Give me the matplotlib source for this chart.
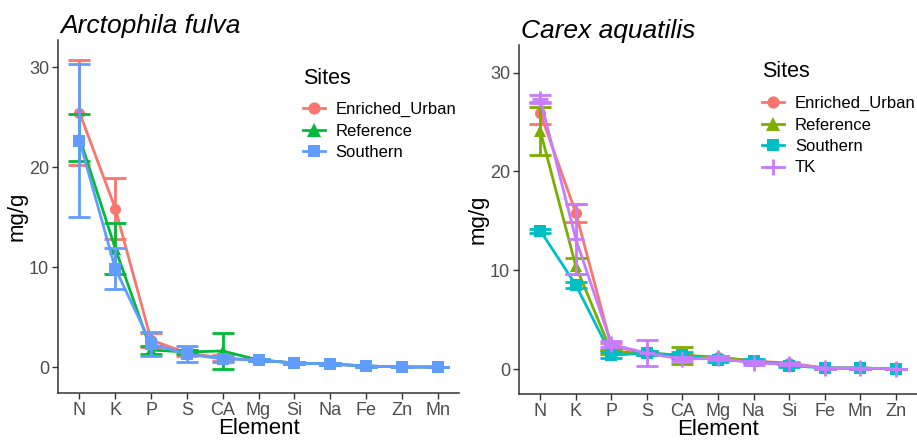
import numpy as np
import matplotlib
matplotlib.use("Agg")
import matplotlib.pyplot as plt

plt.rcParams['font.family'] = ['Liberation Sans', 'DejaVu Sans']

# ---- left panel: Arctophila fulva ----
elem_a = ["N", "K", "P", "S", "CA", "Mg", "Si", "Na", "Fe", "Zn", "Mn"]
eu_a = [25.45, 15.85, 2.7, 1.4, 0.9, 0.7, 0.4, 0.3, 0.1, 0.0, 0.0]
eu_a_err = [5.25, 3.05, 0.7, 0.3, 0.3, 0.1, 0.1, 0.1, 0.05, 0.02, 0.02]
ref_a = [22.95, 11.85, 1.7, 1.5, 1.6, 0.7, 0.4, 0.3, 0.1, 0.0, 0.0]
ref_a_err = [2.35, 2.55, 0.4, 0.2, 1.8, 0.1, 0.1, 0.1, 0.05, 0.02, 0.02]
sou_a = [22.65, 9.85, 2.3, 1.3, 0.8, 0.7, 0.4, 0.3, 0.1, 0.0, 0.0]
sou_a_err = [7.65, 2.05, 1.2, 0.8, 0.3, 0.1, 0.1, 0.1, 0.05, 0.02, 0.02]

# ---- right panel: Carex aquatilis ----
elem_c = ["N", "K", "P", "S", "CA", "Mg", "Na", "Si", "Fe", "Mn", "Zn"]
eu_c = [25.9, 15.8, 2.3, 1.6, 1.3, 1.2, 0.8, 0.6, 0.1, 0.1, 0.0]
eu_c_err = [1.1, 0.9, 0.35, 0.2, 0.2, 0.1, 0.1, 0.1, 0.05, 0.05, 0.02]
ref_c = [24.1, 10.4, 1.75, 1.6, 1.4, 1.2, 0.8, 0.5, 0.1, 0.1, 0.0]
ref_c_err = [2.4, 0.8, 0.2, 0.2, 0.85, 0.1, 0.1, 0.1, 0.05, 0.05, 0.02]
sou_c = [14.0, 8.5, 1.4, 1.6, 1.4, 0.9, 0.8, 0.35, 0.1, 0.1, 0.0]
sou_c_err = [0.2, 0.3, 0.3, 0.2, 0.3, 0.2, 0.2, 0.1, 0.05, 0.05, 0.02]
tk_c = [27.3, 13.15, 2.5, 1.6, 1.0, 1.1, 0.6, 0.5, 0.1, 0.1, 0.0]
tk_c_err = [0.4, 3.55, 0.3, 1.3, 0.2, 0.2, 0.2, 0.1, 0.05, 0.05, 0.02]

fig = plt.figure(figsize=(9.17, 4.4), dpi=100)


def panel(ax, elems, series, title, leg_y, sites_y):
    x = np.arange(1, len(elems) + 1)
    handles = []
    for lab, y, err, col, mk, ms in series:
        # error bars first, then the line with points on top
        ax.errorbar(x, y, yerr=err, fmt="none", ecolor=col, elinewidth=2.0,
                    capsize=8, capthick=2.0)
        if mk == "+":
            h, = ax.plot(x, y, color=col, lw=2.0, marker=mk, markersize=ms,
                         markeredgewidth=2, label=lab)
        else:
            h, = ax.plot(x, y, color=col, lw=2.0, marker=mk, markersize=ms,
                         markeredgewidth=0, label=lab)
        handles.append(h)
    ax.set_xlim(0.4, len(elems) + 0.6)
    ax.set_xticks(x)
    ax.set_xticklabels(elems)
    ax.set_yticks([0, 10, 20, 30])
    for s in ["top", "right"]:
        ax.spines[s].set_visible(False)
    for s in ["bottom", "left"]:
        ax.spines[s].set_color("#333333")
        ax.spines[s].set_linewidth(1.1)
    ax.tick_params(colors="#333333", labelcolor="#4D4D4D", labelsize=13,
                   length=4, width=1, pad=2.5)
    ax.set_xlabel("Element", fontsize=16, labelpad=-1)
    ax.set_ylabel("mg/g", fontsize=16, labelpad=1)
    ax.set_title(title, fontsize=19, style="italic", loc="left", x=0.005, pad=5)
    ax.text(0.611, sites_y, "Sites", transform=ax.transAxes, fontsize=15.5,
            va="center", ha="left")
    ax.legend(handles=handles, loc="upper left", bbox_to_anchor=(0.574, leg_y),
              frameon=False, fontsize=12, handlelength=1.3, handletextpad=0.65,
              labelspacing=0.38, markerscale=1.1)


ax1 = fig.add_axes([58 / 917, 47 / 440, 401 / 917, 353 / 440])
panel(ax1, elem_a, [
    ("Enriched_Urban", eu_a, eu_a_err, "#F8766D", "o", 8),
    ("Reference", ref_a, ref_a_err, "#00BA38", "^", 9),
    ("Southern", sou_a, sou_a_err, "#619CFF", "s", 8),
], "Arctophila fulva", 0.866, 0.892)
ax1.set_ylim(-2.6, 32.7)

ax2 = fig.add_axes([519 / 917, 46 / 440, 398 / 917, 349 / 440])
panel(ax2, elem_c, [
    ("Enriched_Urban", eu_c, eu_c_err, "#F8766D", "o", 8),
    ("Reference", ref_c, ref_c_err, "#7CAE00", "^", 9),
    ("Southern", sou_c, sou_c_err, "#00BFC4", "s", 8),
    ("TK", tk_c, tk_c_err, "#C77CFF", "+", 11),
], "Carex aquatilis", 0.896, 0.923)
ax2.set_ylim(-2.53, 32.8)

fig.savefig("out.png", dpi=100)
